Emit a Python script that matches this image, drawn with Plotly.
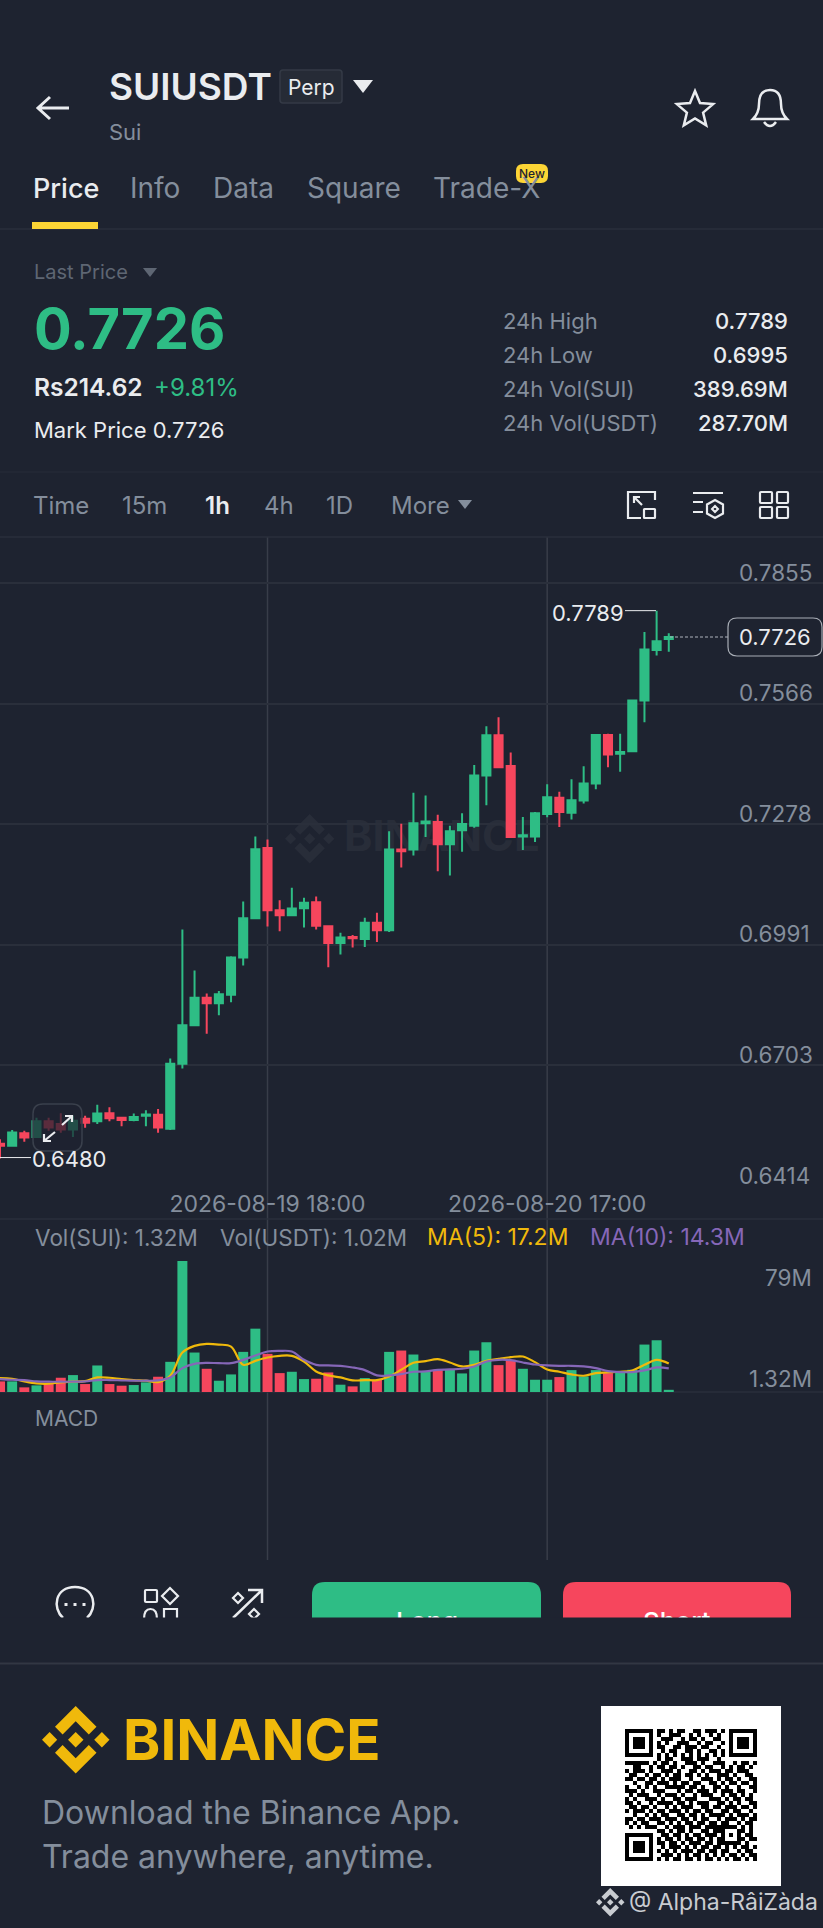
import math
import pandas as pd
import plotly.graph_objects as go

W = 823
H = 1928
BG = "#1e2330"
GRID = "#2a2f3b"
VLINE = "#383d49"
GREEN = "#2ebd85"
RED = "#f6465d"
GRAY = "#848e9c"
WHITE = "#eaecef"
YELLOW = "#f0b90b"
PURPLE = "#8667b8"
FONT = "Inter"

# hourly candles
opens = [.6515, .6510, .6540, .6531, .6569, .6562, .6549, .6575, .6569, .6588, .6577, .6572, .6582, .6584,
         .6551, .6706, .6798, .6864, .6851, .6871, .6960, .7054, .7222, .7073, .7061, .7078, .7092, .7035,
         .6995, .7009, .7004, .7043, .7025, .7218, .7218, .7281, .7284, .7231, .7264, .7275, .7395, .7491,
         .7418, .7249, .7249, .7303, .7342, .7306, .7335, .7376, .7492, .7447, .7453, .7574, .7695, .7721]
highs = [.6526, .6548, .6546, .6577, .6577, .6588, .6582, .6582, .6608, .6602, .6577, .6587, .6595, .6598,
         .6719, .7027, .6929, .6874, .6880, .6963, .7094, .7249, .7242, .7097, .7127, .7103, .7106, .7035,
         .7019, .7014, .7055, .7067, .7262, .7280, .7354, .7347, .7301, .7275, .7305, .7420, .7513, .7534,
         .7450, .7296, .7308, .7374, .7356, .7386, .7417, .7494, .7495, .7495, .7574, .7738, .7789, .7735]
lows = [.6480, .6508, .6520, .6529, .6546, .6541, .6531, .6553, .6562, .6569, .6557, .6569, .6557, .6541,
        .6548, .6695, .6797, .6778, .6822, .6853, .6941, .7053, .7034, .7023, .7060, .7032, .7027, .6937,
        .6967, .6984, .6985, .6997, .7021, .7175, .7204, .7248, .7166, .7156, .7213, .7270, .7324, .7413,
        .7246, .7217, .7236, .7295, .7272, .7290, .7328, .7362, .7415, .7404, .7451, .7522, .7682, .7691]
closes = [.6510, .6542, .6530, .6569, .6554, .6549, .6570, .6565, .6587, .6576, .6572, .6579, .6585, .6554,
          .6706, .6798, .6864, .6851, .6872, .6960, .7054, .7219, .7073, .7061, .7077, .7091, .7036, .6995,
          .7008, .7006, .7043, .7025, .7218, .7214, .7281, .7285, .7231, .7262, .7279, .7395, .7491, .7415,
          .7248, .7252, .7305, .7343, .7308, .7336, .7376, .7492, .7445, .7451, .7574, .7696, .7716, .7726]
# volume in millions
volumes = [6.4, 6.4, 2.8, 4.0, 5.4, 8.6, 10.2, 4.8, 16.0, 4.8, 3.8, 4.2, 5.8, 9.2,
           18.2, 79.0, 23.8, 14.0, 6.8, 10.6, 24.2, 38.2, 23.0, 11.4, 12.2, 7.8, 8.0, 11.8,
           4.4, 3.4, 8.4, 7.4, 24.2, 25.0, 22.6, 12.4, 13.4, 13.4, 11.2, 25.0, 30.0, 16.2,
           19.4, 14.0, 7.4, 7.4, 9.0, 13.2, 9.4, 13.2, 11.4, 11.8, 13.4, 28.6, 31.2, 1.32]
ma5 = [8.4, 8.0, 6.4, 5.2, 5.0, 5.8, 6.2, 6.6, 8.8, 8.6, 7.8, 7.2, 6.8, 6.0,
       9.8, 23.8, 27.8, 29.0, 28.6, 27.4, 16.4, 18.8, 20.8, 21.8, 21.8, 18.4, 12.4, 10.0,
       8.8, 7.0, 7.2, 7.2, 9.4, 13.4, 17.6, 18.6, 19.8, 17.8, 15.4, 16.4, 18.8, 20.0,
       21.0, 21.4, 18.0, 13.6, 12.2, 10.6, 9.8, 11.4, 11.8, 12.2, 13.0, 16.4, 19.4, 17.2]
ma10 = [7.8, 7.4, 7.2, 6.4, 6.2, 6.2, 6.2, 6.4, 7.2, 7.2, 7.0, 6.8, 6.8, 7.0,
        8.8, 14.4, 17.0, 17.6, 17.4, 17.4, 19.4, 22.0, 24.4, 24.8, 24.4, 19.4, 16.4, 16.0,
        15.8, 14.8, 13.2, 10.0, 10.0, 10.8, 12.2, 12.4, 13.4, 13.6, 14.0, 15.4, 18.4, 19.4,
        19.2, 17.8, 16.6, 16.0, 15.8, 15.8, 15.4, 14.4, 12.6, 12.0, 12.0, 13.0, 14.8, 14.3]

times = pd.date_range("2026-08-18 20:00", periods=len(opens), freq="h")
time_ticks = ["2026-08-19 18:00", "2026-08-20 17:00"]
price_ticks = [0.7855, 0.7566, 0.7278, 0.6991, 0.6703, 0.6414]
price_labels = ["0.7855", "0.7566", "0.7278", "0.6991", "0.6703", "0.6414"]

qr_rows = [
    "1111111011010110011011101" + "01111111",
    "1000001010011100101001010" + "01000001",
    "1011101001110010110100110" + "01011101",
    "1011101010100111001011001" + "01011101",
    "1011101011001101110110010" + "01011101",
    "1000001001011001101001101" + "01000001",
    "1111111010101010101010101" + "01111111",
    "0000000010110011101110010" + "00000000",
    "111111010110100111010011100101101",
    "001100101101101001101100101011010",
    "101110100111010011010111011011100",
    "011001011010110110101001110100110",
    "110110110101110010011101011010011",
    "001001101110101101100110101101101",
    "100101010011111011010011010010011",
    "111010011100010110111010111011001",
    "010111001011101001011100101101010",
    "101001110100110111000111010110110",
    "110100101111011010111001101010011",
    "011011010010101110011011011101101",
    "101110101101110101101100110110010",
    "001001010110011011010111101011101",
    "110110111011101101011001011101011",
    "101011001101010110110110110010110",
    "010101110010111011101111111101010",
    "0000000011010110100110111000" + "11010",
    "1111111001101101011011101010" + "10110",
    "1000001010110101101101011000" + "11011",
    "1011101011011010111011011111" + "10100",
    "1011101001011101010110110101" + "01101",
    "1011101010101011101101101100" + "10110",
    "1000001001110101011010101011" + "01011",
    "1111111010101101101011010101" + "10101",
]


def frac(y):
    # page pixel -> fraction of the figure, counted from the bottom
    return 1 - y / H


def txt(x, y, text, size, color=GRAY, anchor="left", weight=400):
    shift = {"left": -2, "right": 2, "center": 0}[anchor]
    return dict(x=x, y=y, xref="x", yref="y", text=text, showarrow=False, xanchor=anchor, yanchor="middle",
                xshift=shift, font=dict(family=FONT, size=size, color=color, weight=weight))


def pth(path, color=WHITE, width=2.5, fill=None, layer="above"):
    return dict(type="path", path=path, xref="x", yref="y", layer=layer,
                line=dict(color=color, width=width), fillcolor=fill or "rgba(0,0,0,0)")


def rr(x0, y0, x1, y1, r):
    return (f"M{x0 + r} {y0} L{x1 - r} {y0} Q{x1} {y0} {x1} {y0 + r} L{x1} {y1 - r} Q{x1} {y1} {x1 - r} {y1} "
            f"L{x0 + r} {y1} Q{x0} {y1} {x0} {y1 - r} L{x0} {y0 + r} Q{x0} {y0} {x0 + r} {y0} Z")


def diamond(cx, cy, r):
    return f"M{cx} {cy - r} L{cx + r} {cy} L{cx} {cy + r} L{cx - r} {cy} Z"


def logo(x0, y0, s, color, layer="above"):
    polys = [
        [(38.73, 53.2), (63.3, 28.64), (87.88, 53.22), (102.18, 38.92), (63.3, 0), (24.43, 38.88)],
        [(0, 63.31), (14.3, 49), (28.6, 63.31), (14.3, 77.61)],
        [(38.73, 73.41), (63.3, 97.97), (87.88, 73.4), (102.18, 87.69), (63.3, 126.61), (24.43, 87.73)],
        [(98.01, 63.31), (112.31, 49), (126.61, 63.31), (112.31, 77.61)],
        [(77.83, 63.3), (63.3, 48.76), (48.78, 63.28), (63.3, 77.8)],
    ]
    out = []
    for p in polys:
        d = "M" + " L".join(f"{x0 + a * s:.1f} {y0 + b * s:.1f}" for a, b in p) + " Z"
        out.append(pth(d, color=color, width=0, fill=color, layer=layer))
    return out


fig = go.Figure()

# page-pixel axes: watermark and QR sit here, under the candles
fig.add_trace(go.Scatter(x=[442], y=[840], mode="text", text=["BINANCE"], xaxis="x", yaxis="y",
                         textfont=dict(family=FONT, size=43, color="#282d39", weight=700), showlegend=False))
fig.add_trace(go.Heatmap(z=[[int(c) for c in r] for r in qr_rows], x0=627, dx=4, y0=1731, dy=4,
                         xaxis="x", yaxis="y", zmin=0, zmax=1, showscale=False,
                         colorscale=[[0, "white"], [1, "black"]]))

fig.add_trace(go.Candlestick(x=times, open=opens, high=highs, low=lows, close=closes, xaxis="x2", yaxis="y2",
                             increasing=dict(line=dict(color=GREEN, width=2), fillcolor=GREEN),
                             decreasing=dict(line=dict(color=RED, width=2), fillcolor=RED),
                             showlegend=False))
bar_colors = [GREEN if c >= o else RED for o, c in zip(opens, closes)]
fig.add_trace(go.Bar(x=times, y=volumes, marker=dict(color=bar_colors, line=dict(width=0)), width=3600000 * 0.82,
                     xaxis="x2", yaxis="y3", showlegend=False))
fig.add_trace(go.Scatter(x=times, y=ma5, mode="lines", line=dict(color=YELLOW, width=2.2, shape="spline"),
                         xaxis="x2", yaxis="y3", showlegend=False))
fig.add_trace(go.Scatter(x=times, y=ma10, mode="lines", line=dict(color=PURPLE, width=2.2, shape="spline"),
                         xaxis="x2", yaxis="y3", showlegend=False))

shapes = []
# separators
for y, c, w in [(229, GRID, 1.5), (472, "#252a36", 1.5), (537, GRID, 1.5), (1219, GRID, 1.5), (1392, GRID, 1.5),
                (1663, "#323743", 3)]:
    shapes.append(dict(type="line", xref="x", yref="y", x0=0, x1=W, y0=y, y1=y, layer="below",
                       line=dict(color=c, width=w)))
for t in time_ticks:
    shapes.append(dict(type="line", xref="x2", yref="y", x0=t, x1=t, y0=537, y1=1560, layer="below",
                       line=dict(color=VLINE, width=1.5)))
shapes += logo(285, 814, 0.39, "#282d39", layer="below")
shapes.append(dict(type="rect", xref="x", yref="y", x0=601, x1=781, y0=1706, y1=1886, layer="below",
                   fillcolor="white", line=dict(width=0)))

# header icons
shapes.append(pth("M69 108 L39 108 M50 97 L38 108 L50 119", width=3))
star = []
for k in range(10):
    r = 19 if k % 2 == 0 else 8.5
    a = math.radians(-90 + 36 * k)
    star.append(f"{695 + r * math.cos(a):.1f} {110 + r * math.sin(a):.1f}")
shapes.append(pth("M" + " L".join(star) + " Z", width=2.5))
shapes.append(pth("M753 119 Q759 113 759 104 C759 95 763 90 770 90 C777 90 781 95 781 104 Q781 113 787 119 Z", width=2.5))
shapes.append(pth("M764 122 Q770 130 776 122", width=2.5))
shapes.append(pth(rr(280, 70, 342, 103, 3), color="#343a46", width=1.5, fill="#262b36"))
shapes.append(pth("M353 80 L373 80 L363 93 Z", width=0, fill=WHITE))
shapes.append(pth(rr(516, 164, 548, 183, 7), width=0, color="#fcd535", fill="#fcd535"))
shapes.append(dict(type="rect", xref="x", yref="y", x0=32, x1=98, y0=222, y1=229, layer="above",
                   fillcolor="#fcd535", line=dict(width=0)))
shapes.append(pth("M143 268 L157 268 L150 277 Z", width=0, fill="#5e6673"))
shapes.append(pth("M458 500 L472 500 L465 509 Z", width=0, fill=GRAY))

# toolbar icons above the chart
shapes.append(pth("M655 500 L655 492 L628 492 L628 518 L641 518", width=2.2))
shapes.append(pth(rr(644, 509, 655, 518, 0.5), width=2.2))
shapes.append(pth("M642 505 L634 497 M634 503 L634 497 L640 497", width=2.2))
shapes.append(pth("M693 493 L723 493 M693 502 L703 502 M693 512 L703 512", width=2.2))
shapes.append(pth("M715 500 L723 504.5 L723 513.5 L715 518 L707 513.5 L707 504.5 Z", width=2.2))
shapes.append(pth(diamond(715, 509, 3), width=2))
for x0, x1 in [(760, 772), (777, 788)]:
    for y0, y1 in [(492, 503), (507, 518)]:
        shapes.append(pth(rr(x0, y0, x1, y1, 1), width=2.2))

# expand button over the candles
shapes.append(pth(rr(33, 1104, 82, 1151, 10), color="#3a404c", width=1.5, fill="rgba(30,35,48,0.72)"))
shapes.append(pth("M62 1125 L72 1116 M65 1116 L72 1116 L72 1122 M55 1132 L44 1141 M51 1141 L44 1141 L44 1134", width=2.2))

# high / low / last price markers
shapes.append(dict(type="line", xref="x", yref="y2", x0=0, x1=31, y0=0.6482, y1=0.6482, layer="above",
                   line=dict(color=WHITE, width=1)))
shapes.append(dict(type="line", xref="x", yref="y2", x0=625, x1=656, y0=0.7789, y1=0.7789, layer="above",
                   line=dict(color=WHITE, width=1)))
shapes.append(dict(type="line", xref="x", yref="y2", x0=670, x1=728, y0=0.7726, y1=0.7726, layer="above",
                   line=dict(color="#aeb4bc", width=1, dash="3px,2px")))
shapes.append(pth(rr(728, 618, 822, 656, 9), color="#a8adb5", width=1.2, fill=BG))

# bottom bar, clipped at y=1619 like the screenshot
shapes.append(pth("M63 1618 C52 1608 55 1587 75 1587 C95 1587 98 1608 87 1618", width=2.5))
for dx in (66, 75, 84):
    shapes.append(dict(type="rect", xref="x", yref="y", x0=dx - 1.5, x1=dx + 1.5, y0=1603, y1=1606, layer="above",
                       fillcolor=WHITE, line=dict(width=0)))
shapes.append(pth(rr(145, 1590, 157, 1602, 1), width=2.2))
shapes.append(pth(diamond(170, 1596, 8), width=2.2))
shapes.append(pth("M144 1619 Q144 1609 150.5 1609 Q157 1609 157 1619", width=2.2))
shapes.append(pth("M164 1619 L164 1609 L177 1609 L177 1619", width=2.2))
shapes.append(pth("M233 1618 L262 1590 M248 1590 L262 1590 L262 1603", width=2.5))
shapes.append(pth(diamond(238, 1598, 5), width=2.2))
shapes.append(pth(diamond(254, 1614, 5), width=2.2))
shapes.append(pth(rr(312, 1582, 541, 1650, 13), width=0, color=GREEN, fill=GREEN))
shapes.append(pth(rr(563, 1582, 791, 1650, 13), width=0, color=RED, fill=RED))
shapes.append(dict(type="rect", xref="x", yref="y", x0=0, x1=W, y0=1619, y1=1660, layer="above",
                   fillcolor=BG, line=dict(width=0)))

shapes += logo(42, 1706, 0.533, YELLOW)
shapes += logo(596, 1888, 0.225, "#c9ccd1")

ann = [
    txt(109, 86, "SUIUSDT", 37, WHITE, weight=600),
    txt(311, 87, "Perp", 21, WHITE, anchor="center"),
    txt(109, 132, "Sui", 22),
    txt(33, 188, "Price", 27, WHITE, weight=500),
    txt(130, 188, "Info", 28),
    txt(213, 188, "Data", 28),
    txt(307, 188, "Square", 28),
    txt(433, 188, "Trade-X", 28),
    txt(34, 272, "Last Price", 20, "#5e6673"),
    txt(34, 329, "0.7726", 56, GREEN, weight=700),
    txt(34, 387, "Rs214.62", 24.5, WHITE, weight=600),
    txt(154, 387, "+9.81%", 24, GREEN),
    txt(34, 430, "Mark Price 0.7726", 22, WHITE),
    txt(503, 321, "24h High", 22),
    txt(503, 355, "24h Low", 22),
    txt(503, 389, "24h Vol(SUI)", 22),
    txt(503, 423, "24h Vol(USDT)", 22),
    txt(788, 321, "0.7789", 22, WHITE, anchor="right", weight=500),
    txt(788, 355, "0.6995", 22, WHITE, anchor="right", weight=500),
    txt(788, 389, "389.69M", 22, WHITE, anchor="right", weight=500),
    txt(788, 423, "287.70M", 22, WHITE, anchor="right", weight=500),
    txt(532, 173.5, "New", 12, "#1e2330", anchor="center", weight=500),
    txt(33, 505, "Time", 24),
    txt(122, 505, "15m", 24),
    txt(205, 505, "1h", 24, WHITE, weight=600),
    txt(264, 505, "4h", 24),
    txt(326, 505, "1D", 24),
    txt(391, 505, "More", 24),
    txt(32, 1159, "0.6480", 22, WHITE),
    txt(624, 613, "0.7789", 22, WHITE, anchor="right"),
    txt(739, 637, "0.7726", 22, WHITE),
    txt(35, 1237, "Vol(SUI): 1.32M", 22.5),
    txt(220, 1237, "Vol(USDT): 1.02M", 22.5),
    txt(427, 1237, "MA(5): 17.2M", 23, YELLOW),
    txt(590, 1237, "MA(10): 14.3M", 23, PURPLE),
    txt(812, 1277, "79M", 22.5, anchor="right"),
    txt(812, 1378, "1.32M", 22.5, anchor="right"),
    txt(35, 1418, "MACD", 21),
    txt(427, 1621, "Long", 26, "white", anchor="center", weight=500),
    txt(677, 1621, "Short", 26, "white", anchor="center", weight=500),
    # covers the lower half of the button labels, the app screenshot is cut here
    dict(x=411, y=1640, xref="x", yref="y", text=" ", showarrow=False, width=823, height=42, bgcolor=BG,
         xanchor="center", yanchor="middle"),
    txt(123, 1739, "BINANCE", 56.5, YELLOW, weight=700),
    txt(42, 1812, "Download the Binance App.", 32),
    txt(42, 1856, "Trade anywhere, anytime.", 32),
    txt(629, 1902, "@ Alpha-RâiZàda", 23, "#c9ccd1"),
]
for p, lab in zip(price_ticks, price_labels):
    a = txt(739, 0, lab, 22.5)
    a.update(yref="y2", y=p, yshift=11)
    ann.append(a)

fig.update_layout(
    width=W, height=H, margin=dict(l=0, r=0, t=0, b=0, pad=0), autosize=False, showlegend=False,
    paper_bgcolor=BG, plot_bgcolor="rgba(0,0,0,0)", boxgap=0.3, boxgroupgap=0.05, bargap=0.18,
    xaxis=dict(range=[0, W], domain=[0, 1], visible=False, fixedrange=True),
    yaxis=dict(range=[H, 0], domain=[0, 1], visible=False, fixedrange=True),
    xaxis2=dict(type="date", range=["2026-08-18 20:00", "2026-08-21 15:41"], domain=[0, 1], anchor="y2",
                rangeslider=dict(visible=False), showgrid=False, zeroline=False, showline=False,
                tickvals=time_ticks, ticktext=time_ticks, ticks="", ticklabelstandoff=2,
                tickfont=dict(family=FONT, size=23, color=GRAY)),
    yaxis2=dict(range=[0.6414, 0.7965], domain=[frac(1186), frac(537)], anchor="x2", side="right",
                tickvals=price_ticks, showticklabels=False, ticks="", showgrid=True, gridcolor=GRID, gridwidth=1.5,
                zeroline=False, showline=False),
    yaxis3=dict(range=[0, 79], domain=[frac(1392), frac(1261)], anchor="x2", side="right",
                showticklabels=False, showgrid=False, zeroline=False, ticks=""),
    shapes=shapes, annotations=ann,
)

fig.write_html("out.html", config=dict(displayModeBar=False),
               post_script="document.body.style.margin='0';document.body.style.overflow='hidden';")
